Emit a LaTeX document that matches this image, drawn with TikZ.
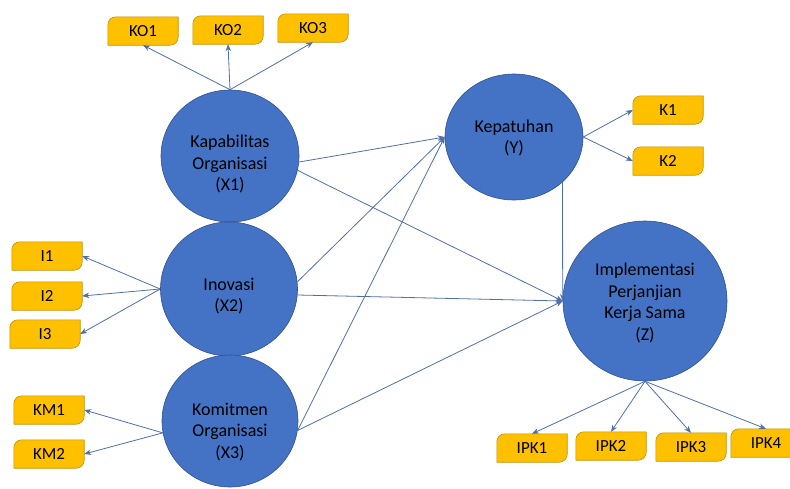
\documentclass[tikz,border=0pt]{standalone}
\usepackage{fontspec}
\setmainfont{Carlito}
\usetikzlibrary{arrows.meta,calc,shapes.geometric}
\pgfdeclarelayer{background}
\pgfsetlayers{background,main}
\definecolor{latfill}{HTML}{4472C4}
\definecolor{latdraw}{HTML}{2F528F}
\definecolor{indfill}{HTML}{FFC000}
\definecolor{inddraw}{HTML}{BF9000}
\definecolor{arrcol}{HTML}{4F6FA8}
\tikzset{
  lat/.style={ellipse, fill=latfill, draw=latdraw, line width=0.6pt, inner sep=0pt},
  lattext/.style={align=center, font=\fontsize{18}{21.8}\selectfont, inner sep=0pt},
  ind/.style={minimum width=70pt, minimum height=28pt, inner sep=0pt,
    font=\fontsize{17}{19}\selectfont},
  indshape/.style={fill=indfill, draw=inddraw, line width=0.6pt},
  arr/.style={draw=arrcol, line width=0.8pt, -{Stealth[length=7pt,width=5.5pt]}}
}
\newcommand\indbox[3]{%
  \node[ind] (#1) at (#2) {#3};
  \begin{pgfonlayer}{background}
  \path[indshape] (#1.south west) -- ([yshift=-8pt]#1.north west)
    arc[start angle=180, end angle=90, radius=8pt] -- (#1.north east)
    -- ([yshift=8pt]#1.south east) arc[start angle=0, end angle=-90, radius=8pt] -- cycle;
  \end{pgfonlayer}}
\begin{document}
\begin{tikzpicture}[x=1pt,y=-1pt]
\useasboundingbox (0,0) rectangle (790,488);
% latent variables
\node[lat, minimum width=138pt, minimum height=132pt,
  label={[lattext,yshift=-8pt]center:Kapabilitas\\Organisasi\\(X1)}] (X1) at (230,156) {};
\node[lat, minimum width=137pt, minimum height=134pt,
  label={[lattext,yshift=-7pt]center:Inovasi\\(X2)}] (X2) at (229,289) {};
\node[lat, minimum width=136pt, minimum height=132pt,
  label={[lattext,yshift=-11pt]center:Komitmen\\Organisasi\\(X3)}] (X3) at (230,421) {};
\node[lat, minimum width=138pt, minimum height=126pt,
  label={[lattext,yshift=-1pt]center:Kepatuhan\\(Y)}] (Y) at (514,137) {};
\node[lat, minimum width=164pt, minimum height=160pt,
  label={[lattext,yshift=-2pt]center:Implementasi\\Perjanjian\\Kerja Sama\\(Z)}] (Z) at (645,301) {};
% indicators
\indbox{KO1}{143,31}{KO1}
\indbox{KO2}{228,30}{KO2}
\indbox{KO3}{313,28}{KO3}
\indbox{I1}{47,256}{I1}
\indbox{I2}{47,296}{I2}
\indbox{I3}{45,334}{I3}
\indbox{KM1}{49,410}{KM1}
\indbox{KM2}{49,454}{KM2}
\indbox{K1}{668,110}{K1}
\indbox{K2}{668,161}{K2}
\indbox{IPK1}{532,448}{IPK1}
\indbox{IPK2}{611,446}{IPK2}
\indbox{IPK3}{691,447}{IPK3}
\indbox{IPK4}{766,443}{IPK4}
% measurement arrows
\draw[arr] (X1.north) -- (KO1.south);
\draw[arr] (X1.north) -- (KO2.south);
\draw[arr] (X1.north) -- (KO3.south);
\draw[arr] (X2.west) -- (I1.east);
\draw[arr] (X2.west) -- (I2.east);
\draw[arr] (X2.west) -- (I3.east);
\draw[arr] (X3.190) -- (KM1.east);
\draw[arr] (X3.190) -- (KM2.east);
\draw[arr] (Y.east) -- (K1.west);
\draw[arr] (Y.east) -- (K2.west);
\draw[arr] (Z.south) -- (IPK1.north);
\draw[arr] (Z.south) -- (IPK2.north);
\draw[arr] (Z.south) -- (IPK3.north);
\draw[arr] (Z.south) -- (IPK4.north);
% structural arrows
\draw[arr] (X1.-5) -- (Y.west);
\draw[arr] (X1.-12) -- (Z.west);
\draw[arr] (X2.6) -- (Y.west);
\draw[arr] (X2.-5) -- (Z.west);
\draw[arr] (X3.-8) -- (Y.west);
\draw[arr] (X3.-8) -- (Z.west);
\draw[arr] (Y.-43) -- (Z.west);
\end{tikzpicture}
\end{document}
